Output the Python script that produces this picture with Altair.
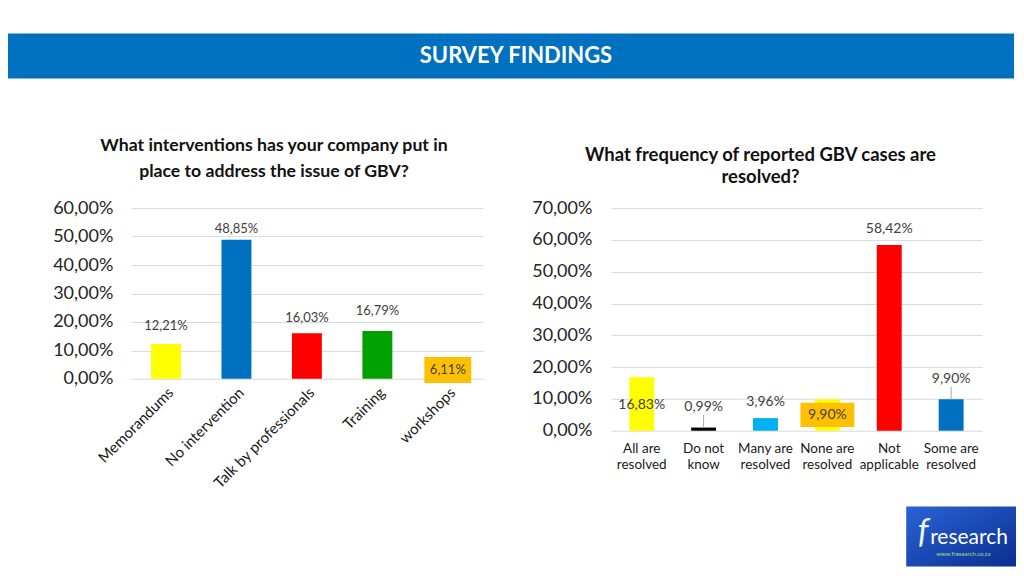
import altair as alt
import pandas as pd

FONT = "Lato"

# ---------------- data ----------------
banner_title = "SURVEY FINDINGS"

left_title = ["What interventions has your company put in", "place to address the issue of GBV?"]
left_categories = ["Memorandums", "No intervention", "Talk by professionals", "Training", "workshops"]
left_values = [12.21, 48.85, 16.03, 16.79, 6.11]
left_ticks = [0, 10, 20, 30, 40, 50, 60]

right_title = ["What frequency of reported GBV cases are", "resolved?"]
right_categories = ["All are resolved", "Do not know", "Many are resolved", "None are resolved",
                    "Not applicable", "Some are resolved"]
right_values = [16.83, 0.99, 3.96, 9.90, 58.42, 9.90]
right_ticks = [0, 10, 20, 30, 40, 50, 60, 70]

logo_name = "research"
logo_url = "www.fresearch.co.za"

# ---------------- styling ----------------
left_colors = ["#FFFF00", "#0070C0", "#FF0000", "#00A000", "#FFC000"]
right_colors = ["#FFFF00", "#000000", "#00B0F0", "#FFFF00", "#FF0000", "#0070C0"]
# label placement (data units) as set manually in the original
left_label_pos = [18.6, 52.6, 21.4, 23.9, 3.1]
right_label_pos = [8.2, 7.6, 9.1, 5.0, 63.5, 16.4]
left_label_box = [False, False, False, False, True]
right_label_box = [False, False, False, True, False, False]
right_leader = [False, True, False, False, False, True]

TXT = "#404040"
GRID = "#D9D9D9"
PCT = "replace(format(datum.value, '.2f'), '.', ',') + '%'"
LEFT_AXIS = 123   # space from page edge to left plot


def fmt(v):
    return f"{v:.2f}".replace(".", ",") + "%"


# ---------------- left chart ----------------
ldf = pd.DataFrame({"cat": left_categories, "value": left_values, "pos": left_label_pos,
                    "box": left_label_box, "color": left_colors})
ldf["label"] = [fmt(v) for v in left_values]
ldf["lo"] = ldf["pos"] - 4.6
ldf["hi"] = ldf["pos"] + 4.6

lxscale = alt.Scale(paddingInner=0, paddingOuter=0)
lyscale = alt.Scale(domain=[0, 60], nice=False)
lxaxis = alt.Axis(title=None, labelAngle=-45, labelFont=FONT, labelFontSize=15,
                  labelColor="#1a1a1a", domain=False, ticks=False, labelPadding=6)
lyaxis = alt.Axis(title=None, values=left_ticks, labelExpr=PCT, labelFont=FONT,
                  labelFontSize=18, labelColor="#262626", domain=False, ticks=False,
                  labelOverlap=False, labelPadding=18, gridColor=GRID, minExtent=LEFT_AXIS)


def LX():
    return alt.X("cat:N", sort=left_categories, scale=lxscale, axis=lxaxis)


def LY(f):
    return alt.Y(f, scale=lyscale, axis=lyaxis)


lbase = alt.Chart(ldf)
l_bars = lbase.mark_bar(size=30).encode(x=LX(), y=LY("value:Q"),
                                        color=alt.Color("color:N", scale=None))
l_box = lbase.transform_filter("datum.box").mark_bar(size=47, color="#FFC000").encode(
    x=LX(), y=LY("lo:Q"), y2="hi:Q")
l_text = lbase.mark_text(font=FONT, fontSize=13, color=TXT, baseline="middle").encode(
    x=LX(), y=LY("pos:Q"), text="label:N")

left = alt.layer(l_bars, l_box, l_text).properties(
    width=353, height=171,
    title=alt.TitleParams(text=left_title, font=FONT, fontSize=17.7, fontWeight="bold",
                          color="#111111", lineHeight=26, anchor="middle", dx=-33, offset=19))

# ---------------- right chart ----------------
rdf = pd.DataFrame({"cat": right_categories, "value": right_values, "pos": right_label_pos,
                    "box": right_label_box, "leader": right_leader, "color": right_colors})
rdf["label"] = [fmt(v) for v in right_values]
rdf["lo"] = rdf["pos"] - 3.8
rdf["hi"] = rdf["pos"] + 3.8
rdf["top"] = rdf["pos"] - 2.6

two_lines = ("[slice(datum.value, 0, lastindexof(datum.value, ' ')), "
             "slice(datum.value, lastindexof(datum.value, ' ') + 1)]")
rxscale = alt.Scale(paddingInner=0, paddingOuter=0)
ryscale = alt.Scale(domain=[0, 70], nice=False)
rxaxis = alt.Axis(title=None, labelAngle=0, labelExpr=two_lines, labelFont=FONT,
                  labelFontSize=13.5, labelColor="#1a1a1a", labelLineHeight=16,
                  domain=False, ticks=False, labelPadding=11)
ryaxis = alt.Axis(title=None, values=right_ticks, labelExpr=PCT, labelFont=FONT,
                  labelFontSize=18, labelColor="#262626", domain=False, ticks=False,
                  labelOverlap=False, labelPadding=19, gridColor=GRID, minExtent=80)


def RX():
    return alt.X("cat:N", sort=right_categories, scale=rxscale, axis=rxaxis)


def RY(f):
    return alt.Y(f, scale=ryscale, axis=ryaxis)


rbase = alt.Chart(rdf)
r_bars = rbase.mark_bar(size=25).encode(x=RX(), y=RY("value:Q"),
                                        color=alt.Color("color:N", scale=None))
r_box = rbase.transform_filter("datum.box").mark_bar(size=54, color="#FFC000").encode(
    x=RX(), y=RY("lo:Q"), y2="hi:Q")
r_lead = rbase.transform_filter("datum.leader").mark_rule(color="#A6A6A6").encode(
    x=RX(), y=RY("value:Q"), y2="top:Q")
r_text = rbase.mark_text(font=FONT, fontSize=14, color=TXT, baseline="middle").encode(
    x=RX(), y=RY("pos:Q"), text="label:N")

logo_df = pd.DataFrame({"name": [logo_name], "url": [logo_url]})
logo_bg = alt.Chart(logo_df).mark_rect(
    color=alt.LinearGradient(gradient="linear", x1=0, y1=0, x2=1, y2=1,
                             stops=[alt.GradientStop(color="#2a63d6", offset=0),
                                    alt.GradientStop(color="#0b2e8f", offset=1)])
).encode(x=alt.value(296), x2=alt.value(406), y=alt.value(299), y2=alt.value(359))
logo_f = alt.Chart(logo_df).mark_text(font=FONT, fontSize=34, fontStyle="italic",
                                      color="#e8f5e0", align="center", baseline="middle").encode(
    x=alt.value(313), y=alt.value(326), text=alt.value("f"))
logo_t = alt.Chart(logo_df).mark_text(font=FONT, fontSize=21, color="white", align="left",
                                      baseline="middle").encode(
    x=alt.value(320), y=alt.value(331), text="name:N")
logo_u = alt.Chart(logo_df).mark_text(font=FONT, fontSize=6, color="#9fe07a", align="left",
                                      baseline="middle").encode(
    x=alt.value(326), y=alt.value(347), text="url:N")

right = alt.layer(r_bars, r_box, r_lead, r_text, logo_bg, logo_f, logo_t, logo_u).properties(
    width=372, height=223,
    title=alt.TitleParams(text=right_title, font=FONT, fontSize=18.5, fontWeight="bold",
                          color="#111111", lineHeight=22, anchor="middle", dx=-36, offset=13))

# ---------------- banner ----------------
bdf = pd.DataFrame({"t": [banner_title]})
banner = alt.layer(
    alt.Chart(bdf).mark_rect(color="#0070C0").encode(
        x=alt.value(-LEFT_AXIS), x2=alt.value(1008 - LEFT_AXIS), y=alt.value(0), y2=alt.value(45)),
    alt.Chart(bdf).mark_text(font=FONT, fontSize=22, fontWeight="bold", color="white",
                             align="center", baseline="middle").encode(
        x=alt.value(509 - LEFT_AXIS), y=alt.value(23), text="t:N"),
).properties(width=1008 - LEFT_AXIS, height=45)

chart = alt.concat(
    banner,
    alt.hconcat(left, right, spacing=48),
    columns=1,
    spacing=58,
    align="none",
).properties(
    padding={"left": 0, "top": 25, "right": 0, "bottom": 0},
    background="white",
).configure_view(stroke=None)

chart.save("out.html", embed_options={"renderer": "svg", "actions": False})
